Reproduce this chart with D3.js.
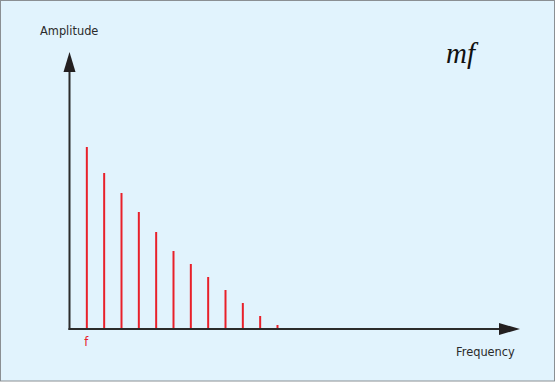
<!DOCTYPE html>
<html>
<head>
<meta charset="utf-8">
<script src="https://cdn.jsdelivr.net/npm/d3@7"></script>
<style>
  html, body { margin: 0; padding: 0; background: #fff; }
  svg { display: block; }
</style>
</head>
<body>
<div id="plot"></div>
<script>
// harmonic number (multiples of f) and its amplitude
const harmonics = [1, 2, 3, 4, 5, 6, 7, 8, 9, 10, 11, 12];
const amplitudes = [182, 156, 136, 117, 97, 78, 65, 52, 39, 26, 13, 4];
const labels = { y: "Amplitude", x: "Frequency", first: "f", note: "mf" };

const width = 555;
const height = 382;

const svg = d3.select("#plot").append("svg")
    .attr("width", width)
    .attr("height", height);

// panel background with grey frame
svg.append("rect")
    .attr("x", 0.5).attr("y", 0.5)
    .attr("width", width - 1).attr("height", height - 1.5)
    .attr("fill", "#e1f3fd")
    .attr("stroke", "#8a8f93")
    .attr("stroke-width", 1);

const x0 = 69.5, baseY = 329;

var x = d3.scaleLinear().domain([0, 12]).range([x0, 277.5]);
var y = d3.scaleLinear().domain([0, 280]).range([baseY, 49]);

// spectral lines
svg.selectAll(".line")
    .data(harmonics)
    .enter().append("line")
    .attr("class", "line")
    .attr("x1", d => x(d))
    .attr("x2", d => x(d))
    .attr("y1", y(0))
    .attr("y2", (d, i) => y(amplitudes[i]))
    .attr("stroke", "#e8202a")
    .attr("stroke-width", 2);

// arrow axes
const axisColor = "#2b2b2b";
svg.append("line")
    .attr("x1", x0).attr("x2", x0)
    .attr("y1", baseY + 1).attr("y2", 68)
    .attr("stroke", axisColor).attr("stroke-width", 2);
svg.append("path")
    .attr("d", `M${x0},52 L${x0 - 6},72 L${x0 + 6},72 Z`)
    .attr("fill", "#231f20");

svg.append("line")
    .attr("x1", x0 - 1).attr("x2", 502)
    .attr("y1", baseY).attr("y2", baseY)
    .attr("stroke", axisColor).attr("stroke-width", 2);
svg.append("path")
    .attr("d", `M520,${baseY} L499,${baseY - 6} L499,${baseY + 6} Z`)
    .attr("fill", "#231f20");

// texts
svg.append("text")
    .attr("x", 40).attr("y", 35)
    .attr("font-family", "DejaVu Sans, sans-serif")
    .attr("font-size", 11.4)
    .attr("fill", "#2a2a2a")
    .text(labels.y);

svg.append("text")
    .attr("x", 456).attr("y", 356)
    .attr("font-family", "DejaVu Sans, sans-serif")
    .attr("font-size", 11.4)
    .attr("fill", "#2a2a2a")
    .text(labels.x);

svg.append("text")
    .attr("x", x(1) - 0.5).attr("y", 346)
    .attr("text-anchor", "middle")
    .attr("font-family", "DejaVu Sans, sans-serif")
    .attr("font-size", 11.4)
    .attr("fill", "#e8202a")
    .text(labels.first);

svg.append("text")
    .attr("x", 446).attr("y", 63)
    .attr("font-family", "Liberation Serif, serif")
    .attr("font-style", "italic")
    .attr("font-size", 29)
    .attr("fill", "#111")
    .text(labels.note);
</script>
</body>
</html>
